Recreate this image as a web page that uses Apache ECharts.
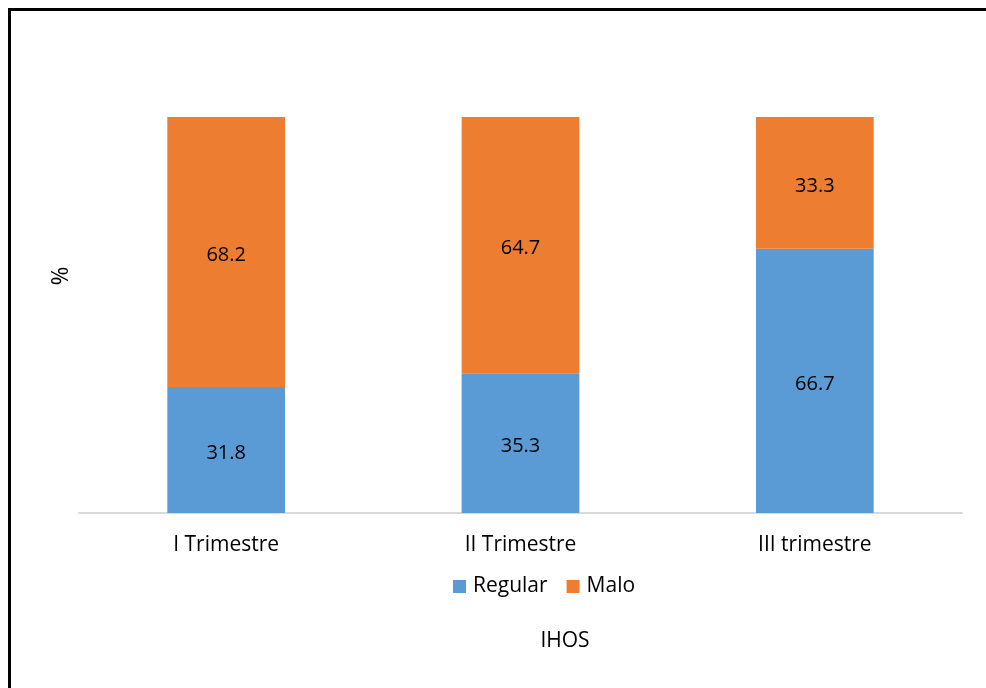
<!DOCTYPE html>
<html><head><meta charset="utf-8">
<script src="https://cdn.jsdelivr.net/npm/echarts@6/dist/echarts.min.js"></script>
<style>html,body{margin:0;padding:0;background:#fff}#c{width:986px;height:688px}</style>
</head><body><div id="c"></div>
<script>
const categories = ['I Trimestre', 'II Trimestre', 'III trimestre'];
const regular = [31.8, 35.3, 66.7];
const malo = [68.2, 64.7, 33.3];
const seriesNames = ['Regular', 'Malo'];
const xTitle = 'IHOS';
const yTitle = '%';

const FONT = 'Open Sans';
const chart = echarts.init(document.getElementById('c'));
chart.setOption({
  animation: false,
  backgroundColor: '#fff',
  textStyle: { fontFamily: FONT },
  grid: { left: 79, right: 24, top: 117, bottom: 175 },
  legend: {
    data: seriesNames, left: 448, top: 571, itemWidth: 13, itemHeight: 13, itemGap: 19,
    textStyle: { fontSize: 21, color: '#000', fontFamily: FONT, padding: [0, 0, 0, 2] }, icon: 'rect'
  },
  title: { text: xTitle, left: 560, top: 626, textAlign: 'center',
    textStyle: { fontSize: 21, fontWeight: 'normal', color: '#000', fontFamily: FONT } },
  graphic: [
    { type: 'rect', shape: { x: 9.5, y: 9.5, width: 1000, height: 700 }, style: { fill: 'none', stroke: '#000', lineWidth: 3 }, z: 10 },
    { type: 'text', x: 61, y: 276, rotation: Math.PI / 2, style: { text: yTitle, fontSize: 23, fill: '#000', fontFamily: FONT, textAlign: 'center', textVerticalAlign: 'middle' } }
  ],
  xAxis: {
    type: 'category', data: categories,
    axisLine: { lineStyle: { color: '#d9d9d9', width: 2 } },
    axisTick: { show: false },
    axisLabel: { fontSize: 21, color: '#000', margin: 22, fontFamily: FONT }
  },
  yAxis: { type: 'value', min: 0, max: 100, show: false, splitLine: { show: false } },
  series: [
    { name: 'Regular', type: 'bar', stack: 's', data: regular, barWidth: '40%',
      itemStyle: { color: '#5b9bd5' },
      label: { show: true, position: 'inside', fontSize: 20, color: '#000', fontFamily: FONT, offset: [0, 3] } },
    { name: 'Malo', type: 'bar', stack: 's', data: malo, barWidth: '40%',
      itemStyle: { color: '#ed7d31' },
      label: { show: true, position: 'inside', fontSize: 20, color: '#000', fontFamily: FONT, offset: [0, 3] } }
  ]
});
</script></body></html>
